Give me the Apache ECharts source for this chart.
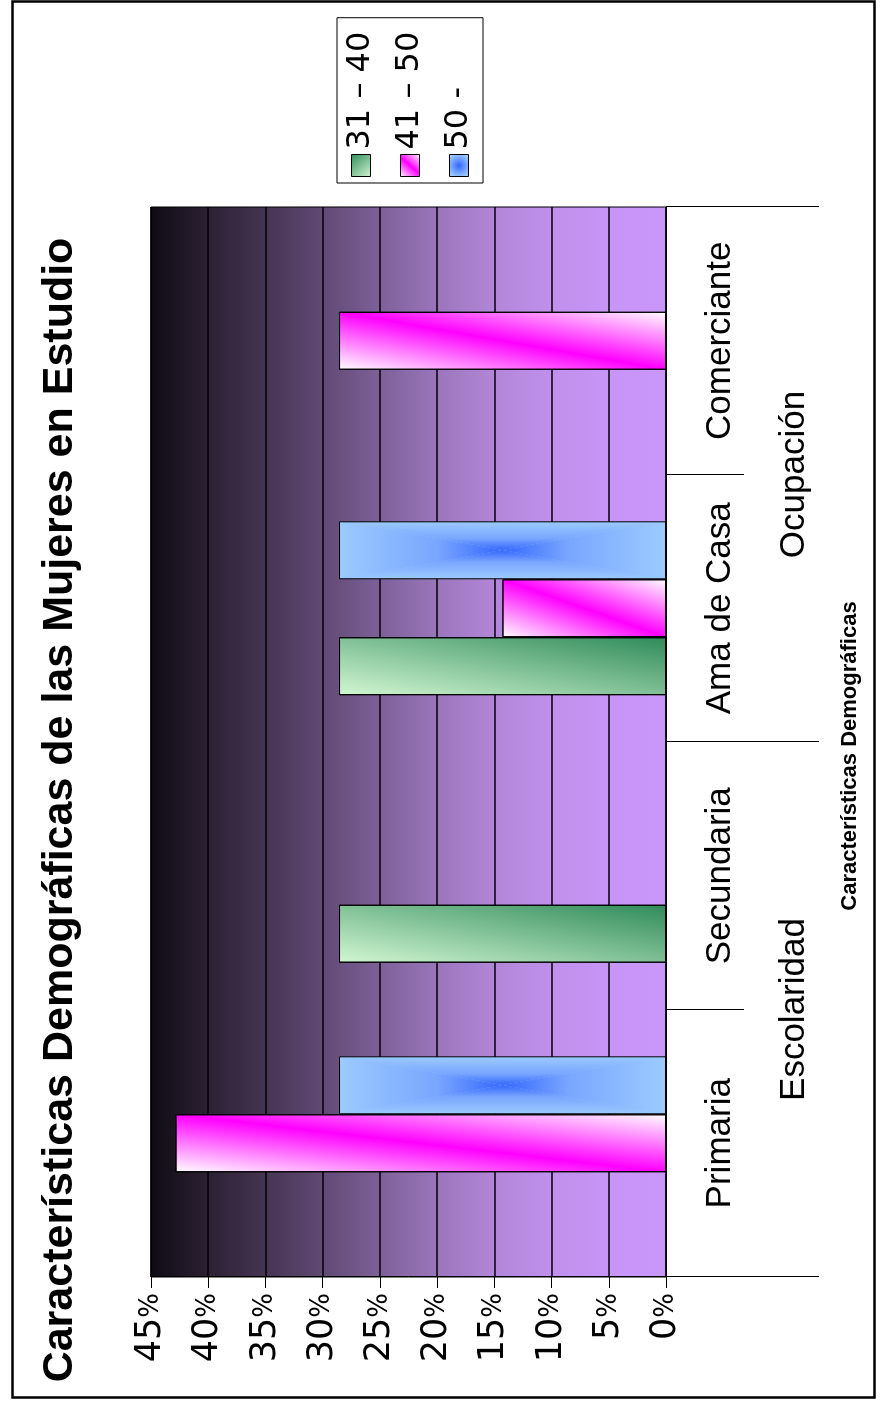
<!DOCTYPE html>
<html>
<head>
<meta charset="utf-8">
<script src="https://cdn.jsdelivr.net/npm/echarts@6/dist/echarts.min.js"></script>
<style>
  html, body { margin: 0; padding: 0; width: 882px; height: 1404px; overflow: hidden; background: #fff; }
  /* The chart is laid out in landscape and turned a quarter-turn counter-clockwise onto the portrait page */
  #chart { position: absolute; left: 0; top: 0; width: 1404px; height: 882px;
           transform-origin: 0 0; transform: rotate(-90deg) translateX(-1404px); }
</style>
</head>
<body>
<div id="chart"></div>
<script>
// ---- data -------------------------------------------------------------
const categories = ['Primaria', 'Secundaria', 'Ama de Casa', 'Comerciante'];
const groups = ['Escolaridad', 'Ocupación'];
const seriesNames = ['31 – 40', '41 – 50', '50 -'];
// share of women (%) per age group
const age31to40 = [null, 28.57, 28.57, null];
const age41to50 = [42.86, null, 14.29, 28.57];
const age50plus = [28.57, null, 28.57, null];
const valueMin = 0, valueMax = 45, valueStep = 5;

// ---- styling ----------------------------------------------------------
const FONT = "'Liberation Sans', Arial, sans-serif";
const WIDE_FONT = "'DejaVu Sans', Verdana, sans-serif";
const plotShade = [
  { offset: 0.000, color: '#0f0b12' },
  { offset: 0.111, color: '#2b2034' },
  { offset: 0.222, color: '#453452' },
  { offset: 0.333, color: '#604a74' },
  { offset: 0.444, color: '#7d6098' },
  { offset: 0.556, color: '#9a76bb' },
  { offset: 0.667, color: '#b286d8' },
  { offset: 0.778, color: '#c090ec' },
  { offset: 0.889, color: '#c695f6' },
  { offset: 1.000, color: '#c997fa' }
];
const greenStops = [{ offset: 0, color: '#d2f7d2' }, { offset: 1, color: '#2f8a5a' }];
const pinkStops = [{ offset: 0, color: '#ffffff' }, { offset: 0.5, color: '#ff00ff' }, { offset: 1, color: '#ffffff' }];
const blueDark = '#3366ff', blueMid = '#79a6ff', blueLight = '#9ccbff';

const legendFills = [
  { type: 'linear', x: 1, y: 0, x2: 0, y2: 1, colorStops: [{ offset: 0, color: '#2f8a5a' }, { offset: 1, color: '#d2f7d2' }] },
  { type: 'linear', x: 0, y: 0, x2: 1, y2: 1, colorStops: pinkStops },
  { type: 'radial', x: 0.5, y: 0.5, r: 0.6, colorStops: [{ offset: 0, color: blueDark }, { offset: 1, color: blueLight }] }
];

const chart = echarts.init(document.getElementById('chart'), null, { renderer: 'canvas', width: 1404, height: 882 });

const seriesValues = [age31to40, age41to50, age50plus];

const option = {
  animation: false,
  backgroundColor: '#ffffff',
  title: {
    text: 'Características Demográficas de las Mujeres en Estudio',
    left: 589, top: 34, textAlign: 'center',
    textStyle: { fontFamily: FONT, fontSize: 43, fontWeight: 'bold', color: '#000' }
  },
  legend: {
    data: seriesNames,
    orient: 'vertical', left: 1221, top: 337,
    padding: [8, 14, 8, 6],
    itemWidth: 22, itemHeight: 19, itemGap: 17,
    icon: 'rect',
    backgroundColor: '#fff', borderColor: '#000', borderWidth: 1,
    itemStyle: { borderColor: '#000', borderWidth: 1 },
    textStyle: { fontFamily: WIDE_FONT, fontSize: 32, color: '#000' }
  },
  graphic: [{
    type: 'rect', left: 4, top: 10, silent: true,
    shape: { width: 1396, height: 862 },
    style: { fill: 'none', stroke: '#000', lineWidth: 2.5 }
  }],
  grid: {
    left: 127, top: 151, width: 1070, height: 515,
    show: true,
    backgroundColor: { type: 'linear', x: 0, y: 0, x2: 0, y2: 1, colorStops: plotShade },
    borderColor: '#000', borderWidth: 1
  },
  xAxis: [
    {
      type: 'category', data: categories, position: 'bottom',
      axisLine: { show: true, lineStyle: { color: '#000', width: 1 } },
      axisTick: { show: true, length: 78, interval: 0, lineStyle: { color: '#000', width: 1 } },
      axisLabel: { show: true, interval: 0, margin: 37, fontFamily: FONT, fontSize: 35, color: '#000' }
    },
    {
      type: 'category', data: groups, position: 'bottom', offset: 0,
      axisLine: { show: false },
      axisTick: { show: true, length: 153, interval: 0, lineStyle: { color: '#000', width: 1 } },
      axisLabel: { show: true, interval: 0, margin: 111, fontFamily: FONT, fontSize: 35, color: '#000' },
      name: 'Características Demográficas', nameLocation: 'middle', nameGap: 173,
      nameTextStyle: { fontFamily: FONT, fontSize: 22, fontWeight: 'bold', color: '#000', padding: [0, 28, 0, 0] }
    }
  ],
  yAxis: {
    type: 'value', min: valueMin, max: valueMax, interval: valueStep,
    axisLine: { show: true, lineStyle: { color: '#000' } },
    axisTick: { show: true, length: 11, lineStyle: { color: '#000' } },
    splitLine: { show: true, lineStyle: { color: '#000', width: 1.5 } },
    axisLabel: {
      margin: 16,
      formatter: v => `{n|${v}}{p|%}`,
      rich: {
        n: { fontFamily: WIDE_FONT, fontSize: 35, color: '#000', verticalAlign: 'middle' },
        p: { fontFamily: WIDE_FONT, fontSize: 26, color: '#000', verticalAlign: 'middle' }
      }
    }
  },
  series: seriesNames.map((name, i) => ({
    name, type: 'bar', xAxisIndex: 0,
    data: seriesValues[i],
    barGap: '0%', barCategoryGap: '35%',
    itemStyle: { color: legendFills[i], borderColor: '#000', borderWidth: 1 }
  }))
};

chart.setOption(option);

// ---- per-bar fills, sized from the laid-out bars ----------------------
function barBox(layout) {
  const left = Math.min(layout.x, layout.x + layout.width);
  const top = Math.min(layout.y, layout.y + layout.height);
  return { left, top, w: Math.abs(layout.width), h: Math.abs(layout.height) };
}

// linear blend whose mid line runs corner to corner along the bar (top-right to bottom-left)
function diagonalFill(b, stops) {
  const L2 = b.w * b.w + b.h * b.h;
  const k = 2 * b.w * b.h / L2;
  return {
    type: 'linear', global: true,
    x: b.left, y: b.top,
    x2: b.left + b.h * k, y2: b.top + b.w * k,
    colorStops: stops
  };
}

// rectangular "from centre" blend, painted on a small canvas and used as a texture
function centreFill(b) {
  const W = Math.max(1, Math.ceil(b.w)), H = Math.max(1, Math.ceil(b.h));
  const cv = document.createElement('canvas');
  cv.width = W; cv.height = H;
  const ctx = cv.getContext('2d');
  const cx = W / 2, cy = H / 2;
  ctx.fillStyle = blueLight;
  ctx.fillRect(0, 0, W, H);
  const parts = [
    { pts: [[-1, -1], [W + 1, -1]], to: [cx, 0] },
    { pts: [[W + 1, H + 1], [-1, H + 1]], to: [cx, H] },
    { pts: [[-1, H + 1], [-1, -1]], to: [0, cy] },
    { pts: [[W + 1, -1], [W + 1, H + 1]], to: [W, cy] }
  ];
  parts.forEach(p => {
    const g = ctx.createLinearGradient(cx, cy, p.to[0], p.to[1]);
    g.addColorStop(0, blueDark);
    g.addColorStop(0.4, blueMid);
    g.addColorStop(1, blueLight);
    ctx.fillStyle = g;
    ctx.beginPath();
    ctx.moveTo(cx, cy);
    ctx.lineTo(p.pts[0][0], p.pts[0][1]);
    ctx.lineTo(p.pts[1][0], p.pts[1][1]);
    ctx.closePath();
    ctx.fill();
  });
  return { image: cv, repeat: 'repeat', x: b.left, y: b.top };
}

const fillMakers = [
  b => diagonalFill(b, greenStops),
  b => diagonalFill(b, pinkStops),
  b => centreFill(b)
];

const model = chart.getModel();
chart.setOption({
  series: seriesValues.map((vals, si) => {
    const data = model.getSeriesByIndex(si).getData();
    return {
      data: vals.map((v, i) => {
        if (v == null) return null;
        const layout = data.getItemLayout(i);
        if (!layout) return v;
        return { value: v, itemStyle: { color: fillMakers[si](barBox(layout)) } };
      })
    };
  })
});
</script>
</body>
</html>
